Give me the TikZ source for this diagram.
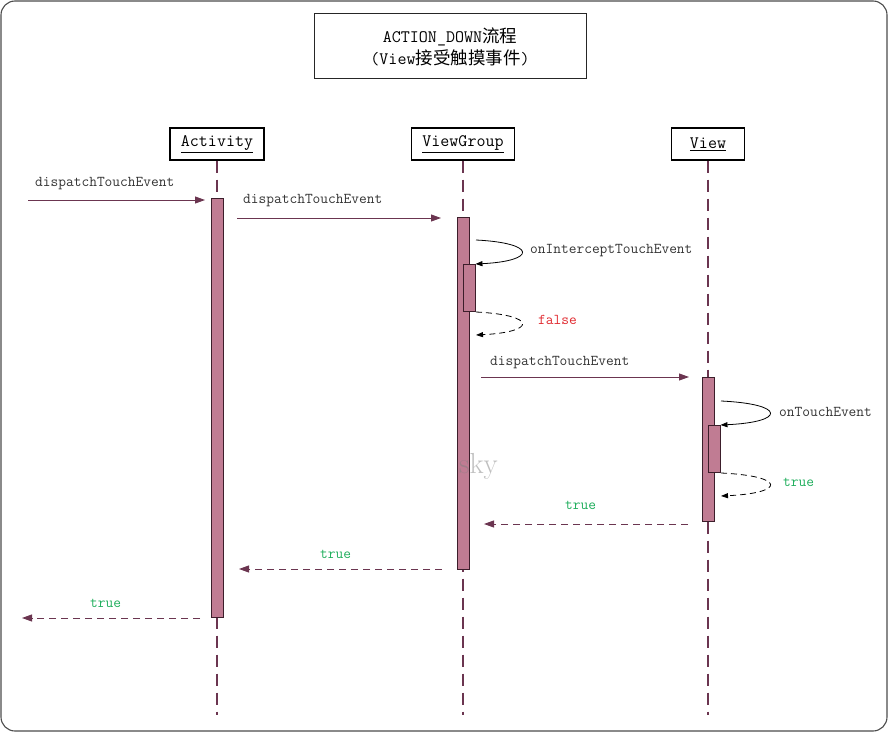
\documentclass[tikz,border=0pt]{standalone}
\usepackage{fontspec}
\newfontfamily\cjk{Noto Sans CJK SC}
\usetikzlibrary{arrows.meta}
\definecolor{barfill}{HTML}{C07C93}
\definecolor{barline}{HTML}{3C1E2B}
\definecolor{msgline}{HTML}{6B3550}
\definecolor{truegreen}{HTML}{1FAE5C}
\definecolor{falsered}{HTML}{E0282E}

\begin{document}
\begin{tikzpicture}[x=1pt,y=-1pt]
        % Define styles for boxes, bars and messages
        \tikzstyle{head}=[draw=black, line width=1.1pt, minimum height=32, inner sep=0pt, font=\fontsize{17.5}{20}\selectfont\ttfamily]
        \tikzstyle{bar}=[draw=barline, fill=barfill, line width=0.9pt, minimum width=12, inner sep=0pt, anchor=north]
        \tikzstyle{life}=[draw=msgline, line width=1.5pt, dash pattern=on 12pt off 7pt]
        \tikzstyle{msg}=[draw=msgline, line width=0.9pt, -{Triangle[length=10pt,width=7pt]}]
        \tikzstyle{ret}=[msg, dash pattern=on 7pt off 5pt]
        \tikzstyle{selfcall}=[draw=black, line width=0.8pt, -{Triangle[length=7pt,width=5pt]}]
        \tikzstyle{selfret}=[selfcall, dash pattern=on 6pt off 4pt]
        \tikzstyle{lbl}=[anchor=west, inner sep=0pt, text=black!80, font=\fontsize{15}{18}\selectfont\ttfamily]

        \useasboundingbox (0,0) rectangle (889,733);

        % Frame and title
        \draw[black!70, line width=1.1pt, rounded corners=14pt] (1,1) rectangle (887,731);
        \node[draw=black!85, line width=1pt, minimum width=272, minimum height=65, align=center,
              font=\fontsize{17.5}{22}\selectfont\ttfamily] (title) at (450,46.5)
              {ACTION\_DOWN{\cjk 流程}\\({View}{\cjk 接受触摸事件})};

        % Lifeline heads
        \node[head, minimum width=94] (acthead) at (217,144) {\underline{Activity}};
        \node[head, minimum width=103] (vghead) at (463,144) {\underline{ViewGroup}};
        \node[head, minimum width=73] (viewhead) at (708,144) {\underline{View}};

        % Lifelines
        \coordinate (actend) at (217,715);
        \coordinate (vgend) at (463,715);
        \coordinate (viewend) at (708,715);
        \draw[life] (acthead) -- (actend);
        \draw[life] (vghead) -- (vgend);
        \draw[life] (viewhead) -- (viewend);

        % Activation bars
        \node[bar, minimum height=419] (actbar) at (217,198) {};
        \node[bar, minimum height=352] (vgbar) at (463,217) {};
        \node[bar, minimum height=47] (vgsub) at (469,264) {};
        \node[bar, minimum height=144] (viewbar) at (708,377) {};
        \node[bar, minimum height=47] (viewsub) at (714,425) {};

        % Messages
        \coordinate (m1s) at (28,200);   \coordinate (m1e) at (205,200);
        \coordinate (m2s) at (237,218);  \coordinate (m2e) at (441,218);
        \coordinate (m5s) at (481,377);  \coordinate (m5e) at (689,377);
        \draw[msg] (m1s) -- (m1e);
        \draw[msg] (m2s) -- (m2e);
        \draw[msg] (m5s) -- (m5e);
        \node[lbl] (l1) at (35,184) {dispatchTouchEvent};
        \node[lbl] (l2) at (243,201) {dispatchTouchEvent};
        \node[lbl] (l5) at (490,363) {dispatchTouchEvent};

        % Self calls
        \coordinate (s1) at (476,240);
        \coordinate (s2) at (476,312);  \coordinate (s2e) at (476,335);
        \coordinate (s3) at (721,401);
        \coordinate (s4) at (721,473);  \coordinate (s4e) at (721,496);
        \draw[selfcall] (s1) .. controls (537,243) and (537,261) .. (vgsub.north east);
        \draw[selfret] (s2) .. controls (537,315) and (537,332) .. (s2e);
        \draw[selfcall] (s3) .. controls (786,404) and (786,422) .. (viewsub.north east);
        \draw[selfret] (s4) .. controls (786,476) and (786,493) .. (s4e);
        \node[lbl] (l3) at (530,251) {onInterceptTouchEvent};
        \node[lbl, text=falsered] (l4) at (538,320) {false};
        \node[lbl] (l6) at (779,412) {onTouchEvent};
        \node[lbl, text=truegreen] (l7) at (783,482) {true};

        % Returns
        \coordinate (r1s) at (688,524);  \coordinate (r1e) at (484,524);
        \coordinate (r2s) at (442,569);  \coordinate (r2e) at (239,569);
        \coordinate (r3s) at (200,618);  \coordinate (r3e) at (22,618);
        \draw[ret] (r1s) -- (r1e);
        \draw[ret] (r2s) -- (r2e);
        \draw[ret] (r3s) -- (r3e);
        \node[lbl, text=truegreen] (l8) at (565,505) {true};
        \node[lbl, text=truegreen] (l9) at (320,554) {true};
        \node[lbl, text=truegreen] (l10) at (90,603) {true};

        % Watermark
        \node[anchor=base west, inner sep=0pt, text=black!50, opacity=0.5, font=\fontsize{29}{32}\selectfont] (mark) at (459,473) {sky};

\end{tikzpicture}
\end{document}
